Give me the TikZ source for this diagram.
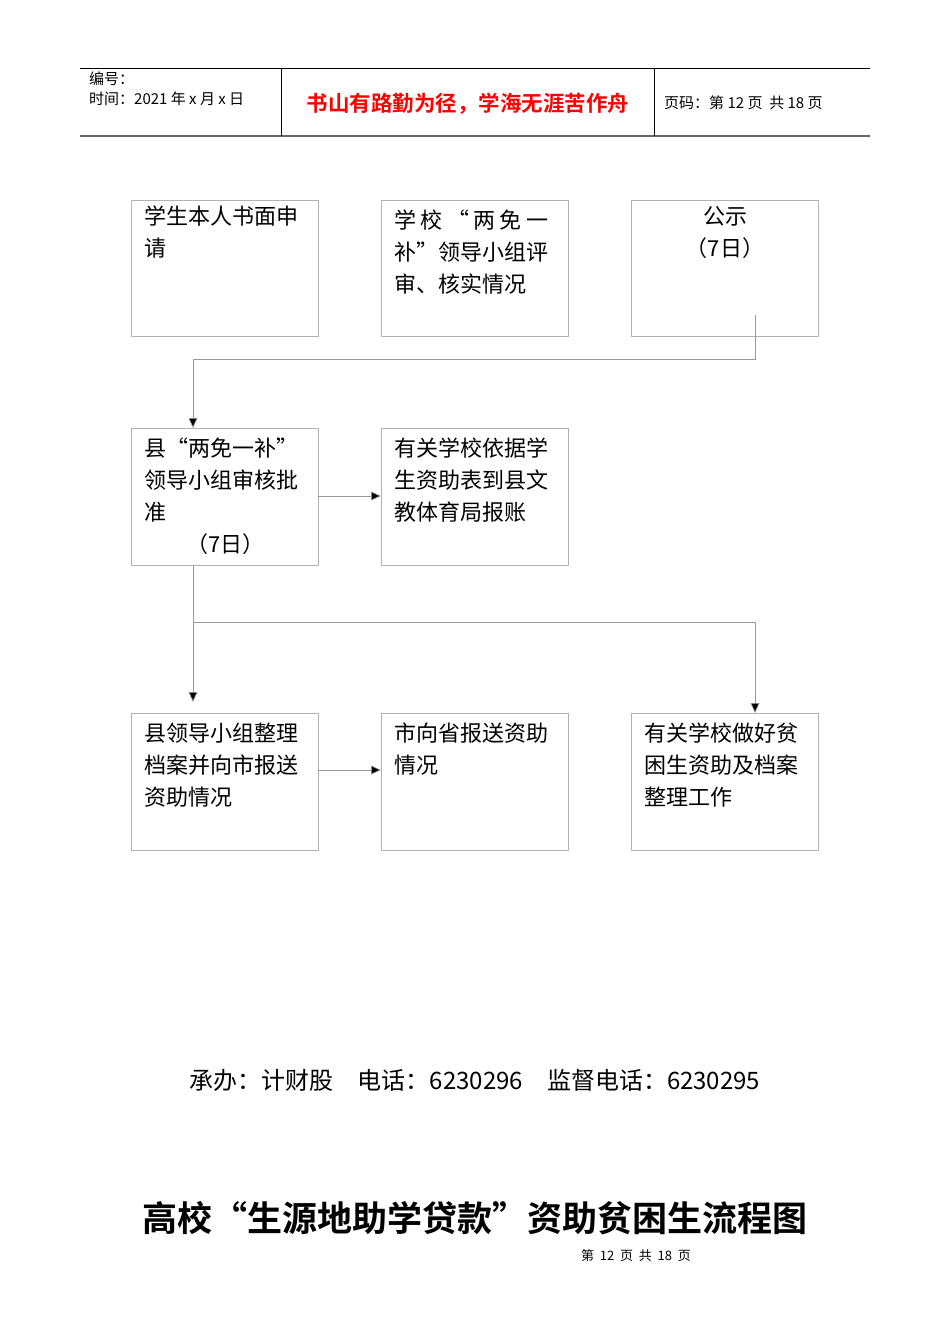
\documentclass[tikz,border=0pt]{standalone}
\usepackage{fontspec}
\setmainfont{Liberation Serif}
\newfontfamily\cjk{Noto Sans CJK SC}
\newfontfamily\cjkb{Noto Sans CJK SC Bold}
\usetikzlibrary{arrows.meta}
\begin{document}
\begin{tikzpicture}[x=1pt,y=-1pt,
  box/.style={draw=black!30,line width=0.8pt},
  txt/.style={anchor=north west,align=left,font=\cjk\fontsize{22}{32}\selectfont,inner sep=0pt},
  conn/.style={draw=black!40,line width=0.7pt},
  arr/.style={conn,-{Triangle[length=10pt,width=9pt,fill=black]}}]
\useasboundingbox (0,0) rectangle (950,1344);
% header
\draw[line width=0.8pt] (80,68) -- (870,68);
\draw[black!60,line width=1.5pt] (80,136) -- (870,136);
\draw[line width=0.8pt] (281,68) -- (281,136) (654,68) -- (654,136);
\node[anchor=west,font=\cjk\fontsize{15}{18}\selectfont,inner sep=0pt] (h1) at (89,79) {编号：};
\node[anchor=west,font=\cjk\fontsize{15}{18}\selectfont,inner sep=0pt] (h2) at (89,99) {时间：2021 年 x 月 x 日};
\node[font=\cjkb\fontsize{21.5}{24}\selectfont,text=red,inner sep=0pt] (h3) at (468,104) {书山有路勤为径，学海无涯苦作舟};
\node[anchor=west,font=\cjk\fontsize{15}{18}\selectfont,inner sep=0pt] (h4) at (664,103) {页码：第 12 页\ \ 共 18 页};
% row 1
\draw[box] (131,200) rectangle (318,336);
\draw[box] (381,200) rectangle (568,336);
\draw[box] (631,200) rectangle (818,336);
\node[txt] (a) at (144,206) {学生本人书面申\\请};
\node[txt] (b) at (394,210) {\makebox[154pt][s]{学 校 “ 两 免 一}\\补”领导小组评\\审、核实情况};
\node[txt,align=center,anchor=north] (c) at (725,206) {公示\\（7日）};
% row 2
\draw[box] (131,428) rectangle (318,565);
\draw[box] (381,428) rectangle (568,565);
\node[txt] (d) at (144,438) {县“两免一补”\\领导小组审核批\\准\\\hspace*{1.9em}（7日）};
\node[txt] (e) at (394,438) {有关学校依据学\\生资助表到县文\\教体育局报账};
% row 3
\draw[box] (131,713) rectangle (318,850);
\draw[box] (381,713) rectangle (568,850);
\draw[box] (631,713) rectangle (818,850);
\node[txt] (f) at (144,723) {县领导小组整理\\档案并向市报送\\资助情况};
\node[txt] (g) at (394,723) {市向省报送资助\\情况};
\node[txt] (h) at (644,723) {有关学校做好贫\\困生资助及档案\\整理工作};
% connectors
\coordinate (p0) at (755,315);
\coordinate (p1) at (193,428);
\draw[arr] (p0) |- (193,359) -- (p1);
\coordinate (q0) at (318,496); \coordinate (q1) at (381,496);
\draw[arr] (q0) -- (q1);
\coordinate (r0) at (193,565); \coordinate (r1) at (193,702);
\draw[arr] (r0) -- (r1);
\coordinate (s1) at (755,713);
\draw[arr] (193,622) -| (s1);
\coordinate (t0) at (318,770); \coordinate (t1) at (381,770);
\draw[arr] (t0) -- (t1);
% footer
\node[font=\cjk\fontsize{24}{28}\selectfont,inner sep=0pt] (ft) at (475,1080) {承办：计财股\quad 电话：6230296\quad 监督电话：6230295};
\node[font=\cjkb\fontsize{35}{40}\selectfont,inner sep=0pt] (ti) at (475,1218) {高校“生源地助学贷款”资助贫困生流程图};
\node[font=\cjk\fontsize{13}{14}\selectfont,inner sep=0pt] (pg) at (636,1256) {第\ \ 12\ \ 页\ \ 共\ \ 18\ \ 页};
\end{tikzpicture}
\end{document}
